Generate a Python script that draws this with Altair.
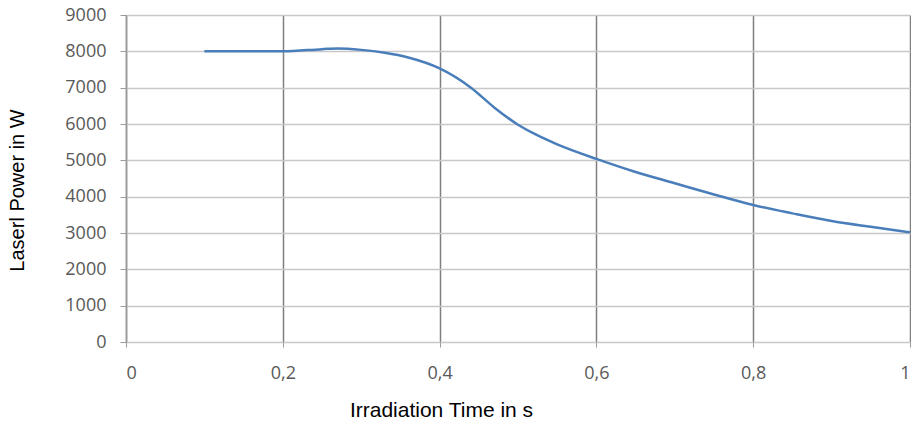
import altair as alt
import pandas as pd

time_s = [0.1, 0.15, 0.2, 0.25, 0.27, 0.3, 0.33, 0.36, 0.4, 0.44, 0.47, 0.5, 0.52, 0.55, 0.6, 0.65, 0.7, 0.75, 0.8, 0.85, 0.9, 0.95, 1.0]
power_w = [8000, 8000, 8000, 8060, 8080, 8040, 7960, 7830, 7530, 7000, 6450, 5980, 5740, 5440, 5040, 4680, 4370, 4060, 3770, 3540, 3330, 3170, 3020]

x_ticks = [0, 0.2, 0.4, 0.6, 0.8, 1.0]
y_ticks = [0, 1000, 2000, 3000, 4000, 5000, 6000, 7000, 8000, 9000]

df = pd.DataFrame({"t": time_s, "p": power_w})

tick_font = "Open Sans"
title_font = "Liberation Sans"

x_axis = alt.Axis(
    values=x_ticks, grid=True, gridColor="#7f7f7f", gridWidth=1.5,
    domain=False, ticks=True, tickColor="#9a9a9a", tickSize=5,
    labelFont=tick_font, labelFontSize=18, labelColor="#595959", labelPadding=17,
    labelExpr="replace(toString(datum.value), '.', ',')",
    title="Irradiation Time in s", titleFont=title_font, titleFontSize=21,
    titleFontWeight="normal", titleColor="#000000", titleX=315, titleY=74,
    titleBaseline="alphabetic",
)
y_axis = alt.Axis(
    values=y_ticks, grid=True, gridColor="#c8c8c8", gridWidth=1.5, format="d",
    domain=True, domainColor="#9a9a9a", domainWidth=1.5,
    ticks=True, tickColor="#9a9a9a", tickSize=6,
    labelFont=tick_font, labelFontSize=18, labelColor="#595959", labelPadding=14,
    title="Laserl Power in W", titleFont=title_font, titleFontSize=20,
    titleFontWeight="normal", titleColor="#000000", titleX=-109, titleY=175,
    titleBaseline="middle",
)

chart = alt.Chart(df).mark_line(color="#4a7ebb", strokeWidth=2.5, interpolate="monotone").encode(
    x=alt.X("t:Q", scale=alt.Scale(domain=[0, 1], nice=False), axis=x_axis),
    y=alt.Y("p:Q", scale=alt.Scale(domain=[0, 9000], nice=False), axis=y_axis),
).properties(
    width=784, height=327,
    autosize=alt.AutoSizeParams(type="none"),
    padding={"left": 118, "top": 7, "right": 1, "bottom": 75},
).configure_view(stroke=None)

chart.save("out.html", embed_options={"renderer": "svg", "actions": False})
